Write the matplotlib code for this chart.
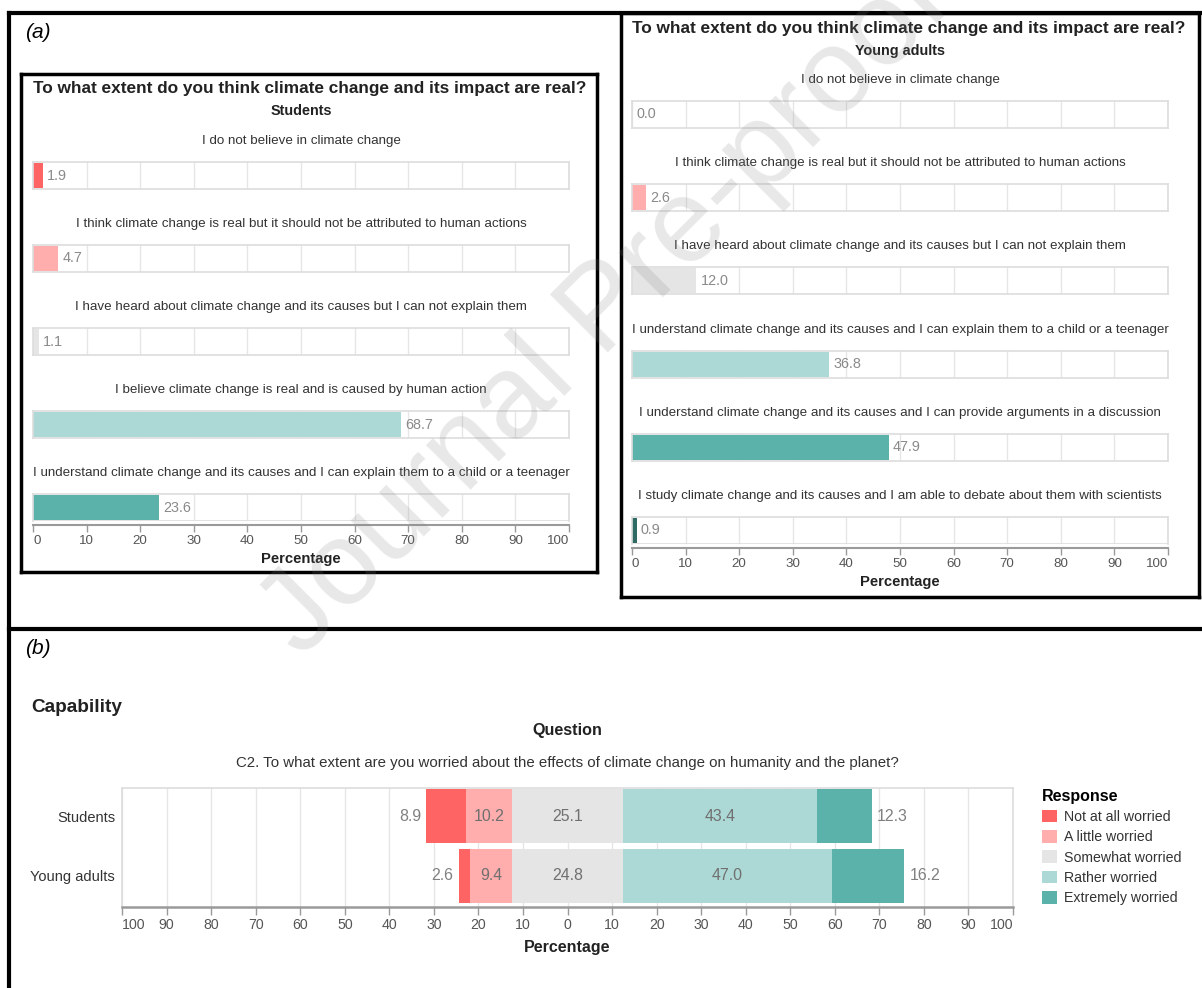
import matplotlib.pyplot as plt
import numpy as np
from matplotlib.lines import Line2D
from matplotlib.patches import Patch

plt.rcParams['font.family'] = ['Liberation Sans', 'DejaVu Sans']

# --- data ---
belief_title = 'To what extent do you think climate change and its impact are real?'

students_items = [
    'I do not believe in climate change',
    'I think climate change is real but it should not be attributed to human actions',
    'I have heard about climate change and its causes but I can not explain them',
    'I believe climate change is real and is caused by human action',
    'I understand climate change and its causes and I can explain them to a child or a teenager',
]
students_pct = [1.9, 4.7, 1.1, 68.7, 23.6]

young_items = [
    'I do not believe in climate change',
    'I think climate change is real but it should not be attributed to human actions',
    'I have heard about climate change and its causes but I can not explain them',
    'I understand climate change and its causes and I can explain them to a child or a teenager',
    'I understand climate change and its causes and I can provide arguments in a discussion',
    'I study climate change and its causes and I am able to debate about them with scientists',
]
young_pct = [0.0, 2.6, 12.0, 36.8, 47.9, 0.9]

worry_question = 'C2. To what extent are you worried about the effects of climate change on humanity and the planet?'
worry_groups = ['Students', 'Young adults']
worry_levels = ['Not at all worried', 'A little worried', 'Somewhat worried',
                'Rather worried', 'Extremely worried']
worry_students = [8.9, 10.2, 25.1, 43.4, 12.3]
worry_young = [2.6, 9.4, 24.8, 47.0, 16.2]

palette = ['#ff6464', '#ffadad', '#e5e5e5', '#acd9d5', '#5ab2aa', '#2f6a64']
ticks = list(range(0, 101, 10))

# --- layout helpers (pixels -> figure fraction) ---
W, H = 1202, 988
fig = plt.figure(figsize=(W / 100, H / 100), dpi=100)


def fx(x):
    return x / W


def fy(y):
    return 1 - y / H


def rect(x0, y0, x1, y1):
    return [x0 / W, 1 - y1 / H, (x1 - x0) / W, (y1 - y0) / H]


def line(x0, y0, x1, y1, lw=3):
    fig.add_artist(Line2D([fx(x0), fx(x1)], [fy(y0), fy(y1)], color='black',
                          lw=lw, solid_capstyle='projecting'))


def box(x0, y0, x1, y1, lw=2.5):
    line(x0, y0, x1, y0, lw)
    line(x1, y0, x1, y1, lw)
    line(x1, y1, x0, y1, lw)
    line(x0, y1, x0, y0, lw)


# frames
line(9, 13, 1201, 13)
line(9, 13, 9, 988)
line(9, 629, 1202, 629)
box(21, 74, 597, 572)
box(621, 13, 1199, 597)

fig.text(fx(25), fy(32), '(a)', fontsize=15, style='italic', va='center')
fig.text(fx(25), fy(648), '(b)', fontsize=15, style='italic', va='center')


def flush_labels(ax):
    lbls = ax.get_xticklabels()
    lbls[0].set_ha('left')
    lbls[-1].set_ha('right')


def track_chart(items, values, x0, x1, top0, step, h, subtitle, title_y, title_x):
    cx = (x0 + x1) / 2
    fig.text(fx(title_x), fy(title_y), belief_title, fontsize=12.4, weight='bold',
             ha='center', va='center', color='#222222')
    fig.text(fx(cx), fy(title_y + 22), subtitle, fontsize=10.4, weight='bold',
             ha='center', va='center', color='#222222')
    n = len(values)
    for i, (item, v) in enumerate(zip(items, values)):
        top = top0 + i * step
        fig.text(fx(cx), fy(top - 21), item, fontsize=9.6, ha='center',
                 va='center', color='#333333')
        ax = fig.add_axes(rect(x0, top, x1, top + h))
        ax.barh(0.5, v, height=0.92, color=palette[i], zorder=2)
        ax.annotate(f'{v:.1f}', xy=(v, 0.5), xytext=(3, 0), textcoords='offset points',
                    va='center', ha='left', fontsize=10.4, color='#8a8a8a')
        ax.set_xlim(0, 100)
        ax.set_ylim(0, 1)
        ax.set_yticks([])
        ax.set_xticks(ticks, [str(t) for t in ticks])
        ax.grid(axis='x', color='#e6e6e6', lw=1, zorder=0)
        for s in ax.spines.values():
            s.set_color('#dddddd')
            s.set_linewidth(1.2)
        if i < n - 1:
            ax.tick_params(axis='x', length=0, labelbottom=False)
        else:
            ax.axhline(0, color='#dddddd', lw=1.2)
            ax.spines['bottom'].set_position(('outward', 3))
            ax.spines['bottom'].set_color('#9a9a9a')
            ax.spines['bottom'].set_linewidth(1.5)
            ax.tick_params(axis='x', length=5, width=1, color='#9a9a9a',
                           labelsize=9.6, labelcolor='#555555', pad=2)
            flush_labels(ax)
    return cx


# (a) students
cx = track_chart(students_items, students_pct, 33, 569, 162, 83, 27,
                 'Students', 89, 310)
fig.text(fx(cx), fy(559), 'Percentage', fontsize=10.6, weight='bold',
         ha='center', va='center', color='#222222')

# (a) young adults
cx = track_chart(young_items, young_pct, 632, 1168, 101, 83.2, 27,
                 'Young adults', 29, 909)
fig.text(fx(cx), fy(582), 'Percentage', fontsize=10.6, weight='bold',
         ha='center', va='center', color='#222222')

# (b) diverging stacked bars
fig.text(fx(31), fy(707), 'Capability', fontsize=13.7, weight='bold',
         ha='left', va='center', color='#222222')
fig.text(fx(567), fy(731), 'Question', fontsize=11.6, weight='bold',
         ha='center', va='center', color='#222222')
fig.text(fx(567), fy(763), worry_question, fontsize=10.8,
         ha='center', va='center', color='#333333')

ax = fig.add_axes(rect(122, 788, 1013, 907))
data = np.array([worry_students, worry_young])
for g, row in enumerate(data):
    start = -(row[0] + row[1] + row[2] / 2)
    lefts = start + np.concatenate([[0], np.cumsum(row)[:-1]])
    for k, (left, w) in enumerate(zip(lefts, row)):
        ax.barh(g, w, left=left, height=0.9, color=palette[k], zorder=2)
        if k == 0:
            ax.annotate(f'{w:.1f}', xy=(left, g), xytext=(-4, 0), textcoords='offset points',
                        ha='right', va='center', fontsize=11.4, color='#808080')
        elif k == len(row) - 1:
            ax.annotate(f'{w:.1f}', xy=(left + w, g), xytext=(4, 0), textcoords='offset points',
                        ha='left', va='center', fontsize=11.4, color='#808080')
        else:
            ax.text(left + w / 2, g, f'{w:.1f}', ha='center', va='center',
                    fontsize=11.4, color='#707070', zorder=3)

ax.set_xlim(-100, 100)
ax.set_ylim(1.517, -0.467)
ax.set_yticks(range(len(worry_groups)), worry_groups)
btick = list(range(-100, 101, 10))
ax.set_xticks(btick, [str(abs(t)) for t in btick])
ax.grid(axis='x', color='#e6e6e6', lw=1, zorder=0)
for s in ax.spines.values():
    s.set_color('#dddddd')
    s.set_linewidth(1.2)
ax.spines['bottom'].set_color('#9a9a9a')
ax.spines['bottom'].set_linewidth(1.8)
ax.tick_params(axis='y', length=0, labelsize=10.5, labelcolor='#333333', pad=5)
ax.tick_params(axis='x', length=6, width=1, color='#9a9a9a', labelsize=10.2,
               labelcolor='#555555', pad=2)
flush_labels(ax)
fig.text(fx(567), fy(947), 'Percentage', fontsize=11.5, weight='bold',
         ha='center', va='center', color='#222222')

handles = [Patch(facecolor=c, edgecolor='none') for c in palette[:5]]
leg = fig.legend(handles, worry_levels, loc='upper left',
                 bbox_to_anchor=(fx(1036), fy(783)), frameon=False,
                 title='Response', alignment='left', fontsize=10.2,
                 title_fontproperties={'weight': 'bold', 'size': 11.5},
                 handlelength=1.05, handleheight=1.0, labelspacing=0.43,
                 handletextpad=0.55, borderaxespad=0)
for t in leg.get_texts():
    t.set_color('#333333')

# watermark
fig.text(fx(606), fy(312), 'Journal Pre-proof', fontsize=86, rotation=45,
         ha='center', va='center', rotation_mode='anchor',
         color='#808080', alpha=0.18, zorder=20)

fig.savefig('out.png', dpi=100)
